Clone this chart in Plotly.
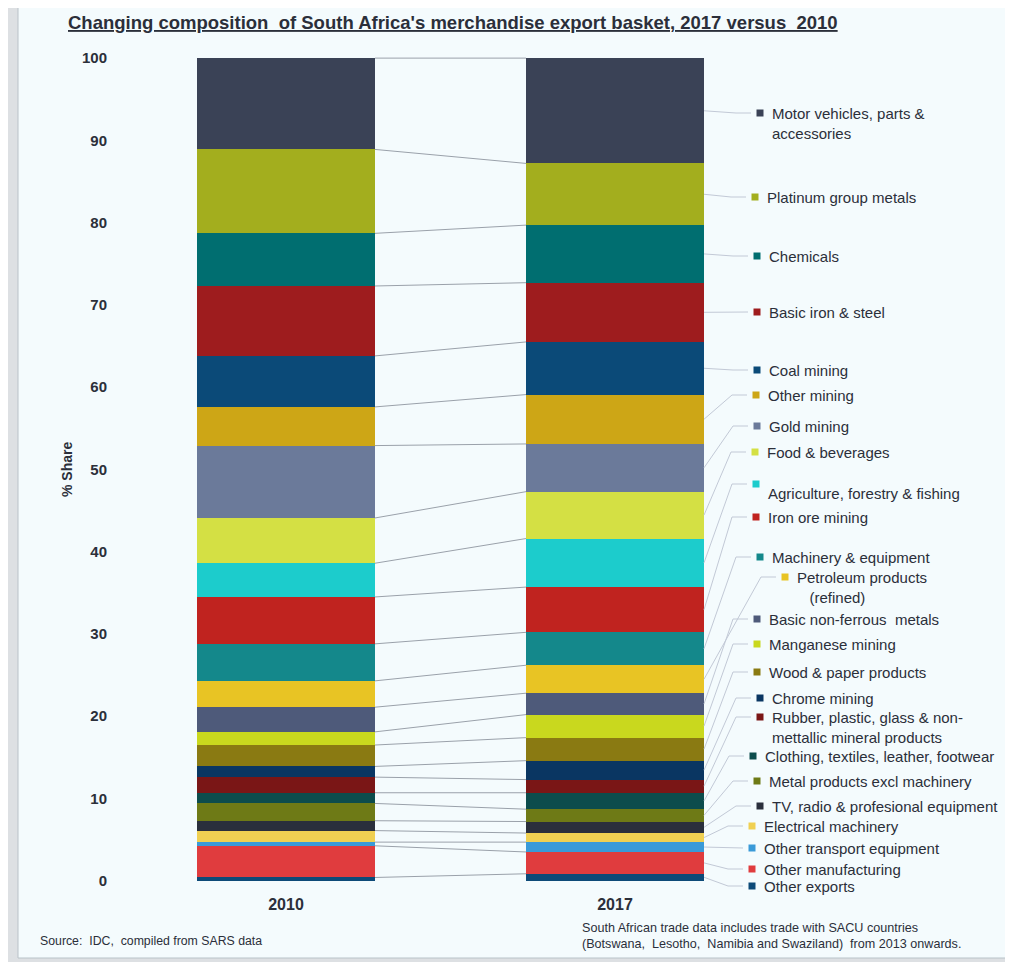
import plotly.graph_objects as go

# ---------------- data (top of stack -> bottom) ----------------
categories = [
    "Motor vehicles, parts & accessories", "Platinum group metals", "Chemicals",
    "Basic iron & steel", "Coal mining", "Other mining", "Gold mining",
    "Food & beverages", "Agriculture, forestry & fishing", "Iron ore mining",
    "Machinery & equipment", "Petroleum products (refined)", "Basic non-ferrous  metals",
    "Manganese mining", "Wood & paper products", "Chrome mining",
    "Rubber, plastic, glass & non-mettallic mineral products",
    "Clothing, textiles, leather, footwear", "Metal products excl machinery",
    "TV, radio & profesional equipment", "Electrical machinery",
    "Other transport equipment", "Other manufacturing", "Other exports",
]
label_text = [
    "Motor vehicles, parts &<br>accessories", "Platinum group metals", "Chemicals",
    "Basic iron & steel", "Coal mining", "Other mining", "Gold mining",
    "Food & beverages", "Agriculture, forestry & fishing", "Iron ore mining",
    "Machinery & equipment", "Petroleum products<br>&nbsp;&nbsp;&nbsp;(refined)",
    "Basic non-ferrous  metals", "Manganese mining", "Wood & paper products",
    "Chrome mining", "Rubber, plastic, glass & non-<br>mettallic mineral products",
    "Clothing, textiles, leather, footwear", "Metal products excl machinery",
    "TV, radio & profesional equipment", "Electrical machinery",
    "Other transport equipment", "Other manufacturing", "Other exports",
]
share_2010 = [11.1, 10.2, 6.4, 8.5, 6.2, 4.7, 8.8, 5.5, 4.1, 5.7, 4.5, 3.2,
              3.0, 1.6, 2.6, 1.3, 1.9, 1.3, 2.1, 1.2, 1.4, 0.45, 3.85, 0.4]
share_2017 = [12.8, 7.5, 7.0, 7.2, 6.4, 6.0, 5.8, 5.7, 5.9, 5.5, 4.0, 3.4,
              2.6, 2.8, 2.8, 2.3, 1.6, 2.0, 1.5, 1.4, 1.1, 1.2, 2.65, 0.85]
years = ["2010", "2017"]
y_ticks = [0, 10, 20, 30, 40, 50, 60, 70, 80, 90, 100]

colors = [
    "#3a4256", "#a3ae1e", "#006e70", "#9e1c1e", "#0b4a78", "#cda616", "#6b7a9a",
    "#d4e044", "#1ccccc", "#c0231f", "#14888b", "#e8c424", "#4e5a7a", "#c9d81e",
    "#8a7a12", "#0a3662", "#7a1616", "#0c4c4c", "#6e7a16", "#2a2f3c", "#f0d052",
    "#3a9ad8", "#e03c3e", "#0d4a78",
]

# ---------------- layout geometry (page pixel coordinates) ----------------
W, H = 1013, 962
OFF = 8                               # page body margin
PL, PR, PT, PB = 113, 1000, 54, 889   # plot area on the page
X0_PX, X_UNIT = 286, 329              # pixel of bar 0 centre, pixels per x unit
xmin = (PL - X0_PX) / X_UNIT
xmax = (PR - X0_PX) / X_UNIT
ymin, ymax = -1.0, 100.5
bar_w = 178 / X_UNIT
half = bar_w / 2
margin = dict(l=PL - OFF, r=W - (PR - OFF), t=PT - OFF, b=H - (PB - OFF))


def px_x(px):
    return xmin + (px - PL) / (PR - PL) * (xmax - xmin)


def py_y(py):
    return ymax - (py - PT) / (PB - PT) * (ymax - ymin)


def px_paper(px):
    return (px - PL) / (PR - PL)


def py_paper(py):
    return 1 - (py - PT) / (PB - PT)


# label positions (pixels): marker centre
label_py = [113, 197, 256, 312, 370, 395, 426, 452, 484, 517, 557, 577, 619,
            644, 672, 698, 717, 756, 781, 806, 826, 848, 869, 886]
label_px = [760, 755, 757, 757, 757, 756, 757, 755, 756, 756, 760, 785, 757,
            757, 757, 760, 760, 753, 757, 760, 752, 752, 752, 752]
text_dy = [0] * len(categories)
text_dy[8] = 9  # agriculture text sits below its marker

font_family = "Liberation Sans, Arial, sans-serif"
text_col = "#2b2f3a"
LBL_SIZE = 15

fig = go.Figure()

# stacked bars, bottom -> top
n = len(categories)
for i in reversed(range(n)):
    fig.add_trace(go.Bar(
        x=[0, 1], y=[share_2010[i], share_2017[i]], width=[bar_w, bar_w],
        marker=dict(color=colors[i], line=dict(width=0)),
        name=categories[i], showlegend=False, hoverinfo="name+y",
    ))

# cumulative tops (bottom -> top)
cum10, cum17 = [], []
c10 = c17 = 0.0
for i in reversed(range(n)):
    c10 += share_2010[i]
    c17 += share_2017[i]
    cum10.append(c10)
    cum17.append(c17)

# series lines connecting segment tops
sx, sy = [], []
for a, b in zip(cum10, cum17):
    sx += [half, 1 - half, None]
    sy += [a, b, None]
fig.add_trace(go.Scatter(x=sx, y=sy, mode="lines", line=dict(color="#9aa1aa", width=1),
                         hoverinfo="skip", showlegend=False))

# leader lines from 2017 segment middles to labels
lx, ly = [], []
for k, i in enumerate(reversed(range(n))):
    mid = cum17[k] - share_2017[i] / 2
    yl = py_y(label_py[i])
    lx += [1 + half, px_x(label_px[i] - 24), px_x(label_px[i] - 9), None]
    ly += [mid, yl, yl, None]
fig.add_trace(go.Scatter(x=lx, y=ly, mode="lines", line=dict(color="#c2c9d6", width=1),
                         hoverinfo="skip", showlegend=False))

# label markers
fig.add_trace(go.Scatter(
    x=[px_x(p) for p in label_px], y=[py_y(p) for p in label_py], mode="markers",
    marker=dict(symbol="square", size=7, color=colors, line=dict(width=0)),
    hoverinfo="skip", showlegend=False, cliponaxis=False,
))

annotations = []
for i in range(n):
    annotations.append(dict(
        x=px_paper(label_px[i] + 10), y=py_paper(label_py[i] + text_dy[i]),
        xref="paper", yref="paper", text=label_text[i], showarrow=False,
        xanchor="left", yanchor="top", yshift=10, align="left",
        font=dict(family=font_family, size=LBL_SIZE, color=text_col),
    ))

# y axis title
annotations.append(dict(
    x=px_paper(57), y=py_paper(470), xref="paper", yref="paper",
    text="<b>% Share</b>", textangle=-90, showarrow=False,
    font=dict(family=font_family, size=14, color=text_col),
))
# title
annotations.append(dict(
    x=px_paper(453), y=py_paper(22), xref="paper", yref="paper",
    text="<b><u>Changing composition  of South Africa's merchandise export basket, 2017 versus  2010</u></b>",
    showarrow=False, xanchor="center", yanchor="middle",
    font=dict(family=font_family, size=18.5, color=text_col),
))
# footnotes
annotations.append(dict(
    x=px_paper(38), y=py_paper(941), xref="paper", yref="paper",
    text="Source:  IDC,  compiled from SARS data", showarrow=False,
    xanchor="left", yanchor="middle",
    font=dict(family=font_family, size=12.3, color=text_col),
))
annotations.append(dict(
    x=px_paper(580), y=py_paper(936), xref="paper", yref="paper",
    text="South African trade data includes trade with SACU countries<br>(Botswana,  Lesotho,  Namibia and Swaziland)  from 2013 onwards.",
    showarrow=False, xanchor="left", yanchor="middle", align="left",
    font=dict(family=font_family, size=12.6, color=text_col),
))

shapes = [dict(
    type="rect", xref="paper", yref="paper", layer="below",
    x0=px_paper(18), x1=px_paper(1012), y0=py_paper(958), y1=py_paper(4),
    fillcolor="#f4fbfd", line=dict(color="#b9c2c8", width=1),
)]

fig.update_layout(
    width=W, height=H,
    margin=margin,
    paper_bgcolor="#dde0e3", plot_bgcolor="rgba(0,0,0,0)",
    barmode="stack", bargap=0,
    showlegend=False,
    annotations=annotations, shapes=shapes,
    xaxis=dict(range=[xmin, xmax], tickmode="array", tickvals=[0, 1], ticktext=years,
               showgrid=False, zeroline=False, showline=False,
               ticks="outside", ticklen=1, tickcolor="rgba(0,0,0,0)",
               tickfont=dict(family=font_family, size=16, color=text_col, weight="bold")),
    yaxis=dict(range=[ymin, ymax], tickmode="array", tickvals=y_ticks,
               showgrid=False, zeroline=False, showline=False,
               ticks="outside", ticklen=2, tickcolor="rgba(0,0,0,0)",
               tickfont=dict(family=font_family, size=15, color=text_col, weight="bold")),
)

fig.write_html("out.html")
